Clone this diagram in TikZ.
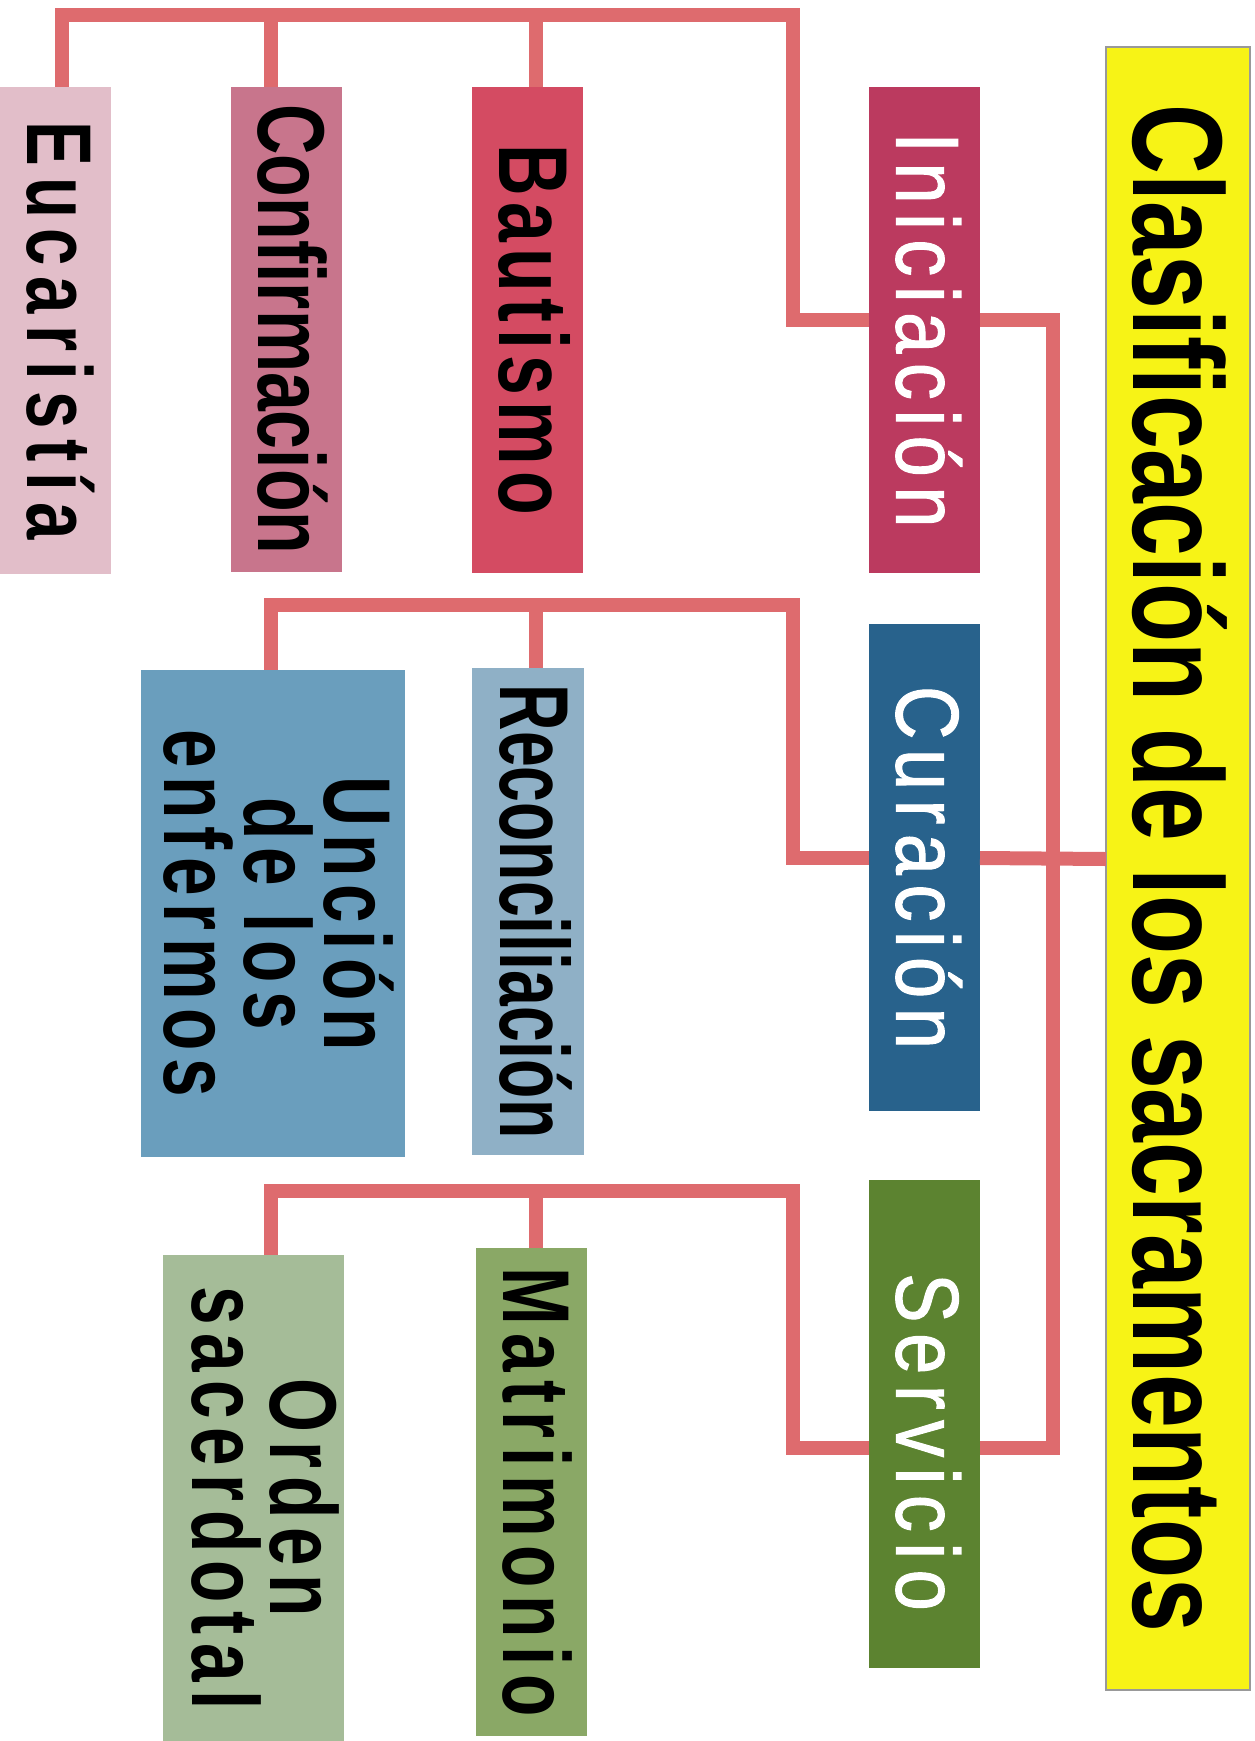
\documentclass[tikz,border=0pt]{standalone}
\usepackage{fontspec}
\setmainfont{Liberation Sans}

\definecolor{linkred}{HTML}{DE6B6E}
\definecolor{titleyellow}{HTML}{F7F316}
\definecolor{inired}{HTML}{BB3A5F}
\definecolor{baured}{HTML}{D44B62}
\definecolor{conrose}{HTML}{C8758C}
\definecolor{eucpink}{HTML}{E2BEC9}
\definecolor{curblue}{HTML}{28628C}
\definecolor{recblue}{HTML}{8FB0C6}
\definecolor{uncblue}{HTML}{6A9EBD}
\definecolor{sergreen}{HTML}{5C8330}
\definecolor{matgreen}{HTML}{8AA866}
\definecolor{ordgreen}{HTML}{A5BC98}

% size, line pitch, stretch, letter space
\newcommand{\sacfont}[4]{\fontspec{Liberation Sans}[FakeStretch=#3,LetterSpace=#4]\bfseries\fontsize{#1}{#2}\selectfont}
\newcommand{\grpfont}[4]{\fontspec{Liberation Sans}[FakeStretch=#3,LetterSpace=#4,FakeBold=1.2]\fontsize{#1}{#2}\selectfont}

\begin{document}
\begin{tikzpicture}[x=1pt, y=-1pt,
    sacbox/.style={rotate=-90, inner sep=0pt, outer sep=0pt, minimum height=111pt,
      text height=68pt, text depth=12pt},
    link/.style={draw=linkred, line width=14pt}]
    \useasboundingbox (0,0) rectangle (1255,1741);

    % draw title
    \node[sacbox, fill=titleyellow, draw=black!40, line width=1.5pt, minimum width=1643pt,
      minimum height=144pt, text height=92pt, text depth=2pt,
      font=\sacfont{128}{128}{0.756}{0}] (title) at (1178,868.5) {Clasificación de los sacramentos};

    % draw groups
    \node[sacbox, fill=inired, text=white, minimum width=486pt,
      font=\grpfont{89}{89}{0.83}{10.9}] (ini) at (924.5,330) {Iniciación};
    \node[sacbox, fill=curblue, text=white, minimum width=487pt,
      font=\grpfont{89}{89}{0.83}{10.8}] (cur) at (924.5,867.5) {Curación};
    \node[sacbox, fill=sergreen, text=white, minimum width=488pt,
      font=\grpfont{89}{89}{0.83}{12}] (ser) at (924.5,1424) {\hspace*{36pt}Servicio};

    % draw sacraments
    \node[sacbox, fill=eucpink, minimum width=487pt,
      font=\sacfont{92}{92}{0.73}{11.7}] (euc) at (55.5,330.5) {Eucaristía};
    \node[sacbox, fill=conrose, minimum width=485pt,
      font=\sacfont{95}{95}{0.735}{0}] (con) at (286.5,329.5) {Confirmación};
    \node[sacbox, fill=baured, minimum width=486pt,
      font=\sacfont{98}{98}{0.73}{6.6}] (bau) at (527.5,330) {Bautismo};
    \node[sacbox, fill=recblue, minimum width=487pt, minimum height=112pt,
      font=\sacfont{98}{98}{0.656}{0}] (rec) at (528,911.5) {Reconciliación};
    \node[sacbox, fill=uncblue, minimum width=487pt, minimum height=264pt, align=center,
      text height=228pt, text depth=10pt,
      font=\sacfont{95}{80}{0.73}{8.4}] (unc) at (273,913.5) {Unción\\de los\\enfermos};
    \node[sacbox, fill=matgreen, minimum width=488pt,
      font=\sacfont{95}{95}{0.73}{8.9}] (mat) at (531.5,1492) {Matrimonio};
    \node[sacbox, fill=ordgreen, minimum width=486pt, minimum height=181pt, align=center,
      text height=146pt, text depth=23pt,
      font=\sacfont{95}{78}{0.73}{9}] (ord) at (253.5,1498) {Orden\\sacerdotal};

    % bar corners and stub columns
    \coordinate (barI) at (793,15);
    \coordinate (barC) at (793,605);
    \coordinate (barS) at (793,1191);
    \coordinate (colA) at (271,0);
    \coordinate (colB) at (536,0);
    \coordinate (spine) at (1053,1448);

    % draw connectors
    \draw[link] ([yshift=10pt]ini.south) -| (barI) -| ([xshift=6.5pt]euc.west);
    \draw[link] (barI -| colA) -- (con.west -| colA);
    \draw[link] (barI -| colB) -- (bau.west -| colB);
    \draw[link] ([yshift=9.5pt]cur.south) -| (barC) -| (unc.west -| colA);
    \draw[link] (barC -| colB) -- (rec.west -| colB);
    \draw[link] ([yshift=-24pt]ser.south) -| (barS) -| (ord.west -| colA);
    \draw[link] (barS -| colB) -- (mat.west -| colB);
    \draw[link] ([yshift=10pt]ini.north) -| (spine) -- ([yshift=-24pt]ser.north);
    \draw[link] ([yshift=9.5pt]cur.north) -- ([yshift=9.5pt]title.south);
\end{tikzpicture}
\end{document}
